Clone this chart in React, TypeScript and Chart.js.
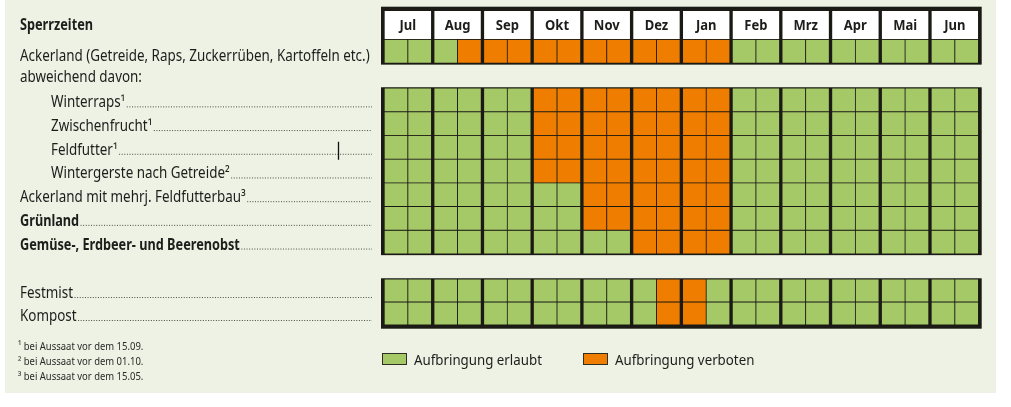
import React, { useEffect, useRef } from 'react';
import { Chart, registerables } from 'chart.js';

Chart.register(...registerables);

// ---------- DATA ----------
const title = 'Sperrzeiten';
const subHeading = 'abweichend davon:';
const months = ['Jul', 'Aug', 'Sep', 'Okt', 'Nov', 'Dez', 'Jan', 'Feb', 'Mrz', 'Apr', 'Mai', 'Jun'];
const halfMonths = months.flatMap((m) => [m + ' 1. Hälfte', m + ' 2. Hälfte']);

// 0 = Aufbringung erlaubt, 1 = Aufbringung verboten (24 half-months, Jul .. Jun)
const ackerland = [0, 0, 0, 1, 1, 1, 1, 1, 1, 1, 1, 1, 1, 1, 0, 0, 0, 0, 0, 0, 0, 0, 0, 0];
const winterraps = [0, 0, 0, 0, 0, 0, 1, 1, 1, 1, 1, 1, 1, 1, 0, 0, 0, 0, 0, 0, 0, 0, 0, 0];
const zwischenfrucht = [0, 0, 0, 0, 0, 0, 1, 1, 1, 1, 1, 1, 1, 1, 0, 0, 0, 0, 0, 0, 0, 0, 0, 0];
const feldfutter = [0, 0, 0, 0, 0, 0, 1, 1, 1, 1, 1, 1, 1, 1, 0, 0, 0, 0, 0, 0, 0, 0, 0, 0];
const wintergerste = [0, 0, 0, 0, 0, 0, 1, 1, 1, 1, 1, 1, 1, 1, 0, 0, 0, 0, 0, 0, 0, 0, 0, 0];
const ackerlandMehrj = [0, 0, 0, 0, 0, 0, 0, 0, 1, 1, 1, 1, 1, 1, 0, 0, 0, 0, 0, 0, 0, 0, 0, 0];
const gruenland = [0, 0, 0, 0, 0, 0, 0, 0, 1, 1, 1, 1, 1, 1, 0, 0, 0, 0, 0, 0, 0, 0, 0, 0];
const gemuese = [0, 0, 0, 0, 0, 0, 0, 0, 0, 0, 1, 1, 1, 1, 0, 0, 0, 0, 0, 0, 0, 0, 0, 0];
const festmist = [0, 0, 0, 0, 0, 0, 0, 0, 0, 0, 0, 1, 1, 0, 0, 0, 0, 0, 0, 0, 0, 0, 0, 0];
const kompost = [0, 0, 0, 0, 0, 0, 0, 0, 0, 0, 0, 1, 1, 0, 0, 0, 0, 0, 0, 0, 0, 0, 0, 0];

const rowNames = [
  'Ackerland (Getreide, Raps, Zuckerrüben, Kartoffeln etc.)',
  'Winterraps¹',
  'Zwischenfrucht¹',
  'Feldfutter¹',
  'Wintergerste nach Getreide²',
  'Ackerland mit mehrj. Feldfutterbau³',
  'Grünland',
  'Gemüse-, Erdbeer- und Beerenobst',
  'Festmist',
  'Kompost',
];
const rowValues = [
  ackerland, winterraps, zwischenfrucht, feldfutter, wintergerste,
  ackerlandMehrj, gruenland, gemuese, festmist, kompost,
];
const legendLabels = ['Aufbringung erlaubt', 'Aufbringung verboten'];
const footnotes = [
  '¹ bei Aussaat vor dem 15.09.',
  '² bei Aussaat vor dem 01.10.',
  '³ bei Aussaat vor dem 15.05.',
];

// ---------- LAYOUT / STYLE ----------
const rowBlock = [0, 1, 1, 1, 1, 1, 1, 1, 2, 2];
const rowIndent = [0, 1, 1, 1, 1, 0, 0, 0, 0, 0];
const rowBold = [0, 0, 0, 0, 0, 0, 1, 1, 0, 0];
const rowLeader = [0, 1, 1, 1, 1, 1, 1, 1, 1, 1];
const headerBand = [0, 1.2];
const blockStart = [1.2, 3.25, 11.31];
const blockRowH = [1, 1, 0.97];
const blockFrame = [
  [4.3, 1.5],
  [0.75, 1.25],
  [0.75, 3.7],
];
const Y_MAX = 13.25;

const GREEN = '#a6c968';
const ORANGE = '#ef7d00';
const BLACK = '#1b1a14';
const PANEL = '#edf2e4';
const TEXT = '#1d1d1b';
const FONT = '"Noto Sans", "Open Sans", sans-serif';

function rowBand(i: number): [number, number] {
  const b = rowBlock[i];
  let k = 0;
  for (let j = 0; j < i; j++) if (rowBlock[j] === b) k++;
  const top = blockStart[b] + k * blockRowH[b];
  return [top, top + blockRowH[b]];
}

function drawText(
  ctx: CanvasRenderingContext2D, text: string, x: number, y: number,
  size: number, weight: string, sx: number, align: CanvasTextAlign = 'left', color = TEXT,
) {
  ctx.save();
  ctx.font = `${weight} ${size}px ${FONT}`;
  ctx.fillStyle = color;
  ctx.textAlign = align;
  ctx.textBaseline = 'alphabetic';
  ctx.translate(x, y);
  ctx.scale(sx, 1);
  ctx.fillText(text, 0, 0);
  const w = ctx.measureText(text).width * sx;
  ctx.restore();
  return w;
}

const decor = {
  id: 'decor',
  beforeDraw(chart: any) {
    const ctx = chart.ctx as CanvasRenderingContext2D;
    ctx.save();
    ctx.fillStyle = '#ffffff';
    ctx.fillRect(0, 0, chart.width, chart.height);
    ctx.fillStyle = PANEL;
    ctx.fillRect(5, 0, 991, 393);
    ctx.restore();
  },
  beforeDatasetsDraw(chart: any) {
    const ctx = chart.ctx as CanvasRenderingContext2D;
    const y = chart.scales.y;
    const a = chart.chartArea;
    ctx.save();
    ctx.fillStyle = BLACK;
    for (let b = 0; b < 3; b++) {
      const rows = rowBlock.map((v, i) => (v === b ? i : -1)).filter((i) => i >= 0);
      const top = b === 0 ? headerBand[0] : rowBand(rows[0])[0];
      const bottom = rowBand(rows[rows.length - 1])[1];
      const y0 = y.getPixelForValue(top) - blockFrame[b][0];
      const y1 = y.getPixelForValue(bottom) + blockFrame[b][1];
      ctx.fillRect(a.left - 2, y0, a.right - a.left + 4, y1 - y0);
    }
    ctx.restore();
  },
  afterDatasetsDraw(chart: any) {
    const ctx = chart.ctx as CanvasRenderingContext2D;
    const y = chart.scales.y;
    const xm = chart.scales.xm;
    const a = chart.chartArea;

    // month headers
    const hc = y.getPixelForValue((headerBand[0] + headerBand[1]) / 2);
    months.forEach((m, i) => {
      drawText(ctx, m, xm.getPixelForValue(i), hc + 5, 14, 'bold', 0.93, 'center');
    });

    // title and sub heading
    drawText(ctx, title, 20, hc + 5, 15.5, 'bold', 0.82);
    const g0 = y.getPixelForValue(rowBand(0)[1]);
    const g1 = y.getPixelForValue(rowBand(1)[0]);
    drawText(ctx, subHeading, 20, (g0 + g1) / 2 + 6, 15.5, 'normal', 0.865);

    // row labels with dotted leaders
    rowNames.forEach((name, i) => {
      const [t, bt] = rowBand(i);
      const c = (y.getPixelForValue(t) + y.getPixelForValue(bt)) / 2;
      const base = i === 0 ? c + 10 : c + 7.5;
      const x = rowIndent[i] ? 51 : 20;
      const bold = rowBold[i] === 1;
      const w = drawText(ctx, name, x, base, 15.5, bold ? 'bold' : 'normal', bold ? 0.82 : 0.865);
      if (rowLeader[i]) {
        ctx.save();
        ctx.strokeStyle = '#4a4a44';
        ctx.lineWidth = 1;
        ctx.setLineDash([1, 1.6]);
        ctx.beginPath();
        ctx.moveTo(x + w + 1.5, base - 0.5);
        ctx.lineTo(a.left - 11, base - 0.5);
        ctx.stroke();
        ctx.restore();
      }
      if (i === 3) {
        ctx.save();
        ctx.strokeStyle = '#111';
        ctx.lineWidth = 1.3;
        ctx.beginPath();
        ctx.moveTo(338.5, base - 13);
        ctx.lineTo(338.5, base + 5);
        ctx.stroke();
        ctx.restore();
      }
    });

    // footnotes
    const yb = y.getPixelForValue(Y_MAX);
    footnotes.forEach((f, i) => {
      drawText(ctx, f, 18, yb + 25 + i * 14.8, 11, 'normal', 0.86, 'left', '#2a2a28');
    });

    // legend
    const lx = [a.left - 1, a.left + 200];
    const ly = yb + 28;
    [GREEN, ORANGE].forEach((col, i) => {
      ctx.save();
      ctx.fillStyle = col;
      ctx.fillRect(lx[i], ly, 25, 12);
      ctx.strokeStyle = '#2f2e22';
      ctx.lineWidth = 1;
      ctx.strokeRect(lx[i] + 0.5, ly + 0.5, 24, 11);
      ctx.restore();
      drawText(ctx, legendLabels[i], lx[i] + 32, ly + 11.5, 14, 'normal', 0.95);
    });
  },
};

export default function App() {
  const ref = useRef<HTMLCanvasElement>(null);
  useEffect(() => {
    const canvas = ref.current!;
    const cellBorder = (ctx: any) =>
      ctx.dataIndex % 2 === 0
        ? { left: 2, right: 0.75, top: 0.75, bottom: 0.75 }
        : { left: 0.75, right: 2, top: 0.75, bottom: 0.75 };
    const datasets: any[] = [
      {
        label: 'Monate',
        xAxisID: 'xm',
        data: months.map(() => [headerBand[0], headerBand[1]]),
        backgroundColor: '#ffffff',
        borderColor: BLACK,
        borderWidth: { left: 2, right: 2, top: 0, bottom: 0.75 },
        borderSkipped: false,
        grouped: false,
        barPercentage: 1,
        categoryPercentage: 1,
      },
      ...rowNames.map((name, i) => {
        const band = rowBand(i);
        return {
          label: name,
          xAxisID: 'x',
          data: rowValues[i].map(() => [band[0], band[1]]),
          backgroundColor: rowValues[i].map((v) => (v ? ORANGE : GREEN)),
          borderColor: BLACK,
          borderWidth: cellBorder,
          borderSkipped: false,
          grouped: false,
          barPercentage: 1,
          categoryPercentage: 1,
        };
      }),
    ];
    const chart = new Chart(canvas, {
      type: 'bar',
      data: { labels: halfMonths, datasets },
      options: {
        responsive: false,
        animation: false,
        devicePixelRatio: 1,
        events: [],
        layout: { padding: { left: 383, right: 31.3, top: 11, bottom: 82 } },
        plugins: { legend: { display: false }, tooltip: { enabled: false } },
        scales: {
          x: { type: 'category', labels: halfMonths, display: false, offset: true },
          xm: { type: 'category', axis: 'x', labels: months, display: false, offset: true },
          y: { type: 'linear', reverse: true, min: 0, max: Y_MAX, display: false },
        },
      } as any,
      plugins: [decor],
    });
    return () => chart.destroy();
  }, []);
  return (
    <div style={{ position: 'absolute', left: 0, top: 0, width: 1011, height: 407 }}>
      <canvas ref={ref} width={1011} height={407} style={{ display: 'block' }} />
    </div>
  );
}
